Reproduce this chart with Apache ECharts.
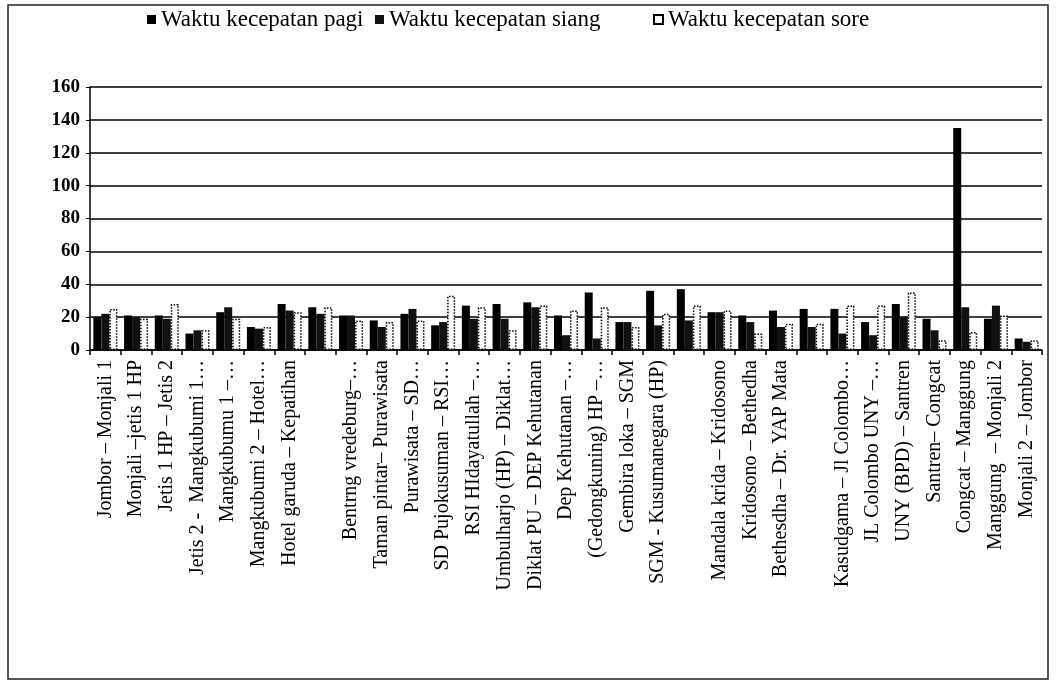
<!DOCTYPE html>
<html>
<head>
<meta charset="utf-8">
<script src="https://cdn.jsdelivr.net/npm/echarts@6/dist/echarts.min.js"></script>
<style>html,body{margin:0;padding:0;background:#fff}#c{width:1056px;height:683px}</style>
</head>
<body>
<div id="c"></div>
<script>
const categories = [
  "Jombor – Monjali 1", "Monjali –jetis 1 HP", "Jetis 1 HP – Jetis 2", "Jetis 2 -  Mangkubumi 1…",
  "Mangkubumu 1 –…", "Mangkubumi 2 – Hotel…", "Hotel garuda – Kepatihan", "",
  "Bentrng vredeburg–…", "Taman pintar– Purawisata", "Purawisata – SD…", "SD Pujokusuman – RSI…",
  "RSI HIdayatullah –…", "Umbulharjo (HP) – Diklat…", "Diklat PU – DEP Kehutanan", "Dep Kehutanan –…",
  "(Gedongkuning) HP –…", "Gembira loka – SGM", "SGM - Kusumanegara (HP)", "",
  "Mandala krida – Kridosono", "Kridosono – Bethedha", "Bethesdha – Dr. YAP Mata", "",
  "Kasudgama – Jl Colombo…", "JL Colombo UNY –…", "UNY (BPD) – Santren", "Santren– Congcat",
  "Congcat – Manggung", "Manggung  – Monjali 2", "Monjali 2 – Jombor"
];
const pagi  = [20, 21, 21, 10, 23, 14, 28, 26, 21, 18, 22, 15, 27, 28, 29, 21, 35, 17, 36, 37, 23, 21, 24, 25, 25, 17, 28, 19, 135, 19, 7];
const siang = [22, 20, 19, 12, 26, 13, 24, 22, 21, 14, 25, 17, 19, 19, 26, 9, 7, 17, 15, 18, 23, 17, 14, 14, 10, 9, 20, 12, 26, 27, 5];
const sore  = [25, 19, 28, 12, 19, 14, 23, 26, 18, 17, 18, 33, 26, 12, 27, 24, 26, 14, 22, 27, 24, 10, 16, 16, 27, 27, 35, 6, 11, 21, 6];
const seriesNames = ["Waktu kecepatan pagi", "Waktu kecepatan siang", "Waktu kecepatan sore"];
const yTicks = [0, 20, 40, 60, 80, 100, 120, 140, 160];

const serif = "'Liberation Serif', 'DejaVu Serif', serif";
const legendLefts = [142, 370, 648];
const chart = echarts.init(document.getElementById('c'), null, {renderer: 'canvas'});
chart.setOption({
  animation: false,
  backgroundColor: '#fff',
  graphic: [{
    type: 'rect', shape: {x: 8, y: 5, width: 1040, height: 674},
    style: {fill: 'none', stroke: '#222', lineWidth: 1.5}, silent: true
  }],
  legend: seriesNames.map((n, i) => ({
    top: 3, left: legendLefts[i],
    itemWidth: 9, itemHeight: 9,
    textStyle: {fontFamily: serif, fontSize: 23, color: '#000'},
    data: [{name: n, icon: 'rect'}]
  })),
  grid: {left: 90, right: 14, top: 87, bottom: 333, containLabel: false},
  xAxis: {
    type: 'category', data: categories,
    axisLine: {lineStyle: {color: '#000', width: 1.5}},
    axisTick: {show: true, alignWithLabel: false, length: 5, lineStyle: {color: '#000', width: 1.5}},
    axisLabel: {rotate: 90, interval: 0, fontFamily: serif, fontSize: 20, color: '#000', margin: 10}
  },
  yAxis: {
    type: 'value', min: 0, max: 160, interval: 20,
    axisLine: {show: true, lineStyle: {color: '#000', width: 1.5}},
    axisTick: {show: true, length: 4, lineStyle: {color: '#000'}},
    splitLine: {lineStyle: {color: '#000', width: 1.5}},
    axisLabel: {fontFamily: serif, fontSize: 19, fontWeight: 'bold', color: '#000', margin: 10,
      formatter: v => yTicks.includes(v) ? String(v) : ''}
  },
  series: [
    {name: seriesNames[0], type: 'bar', data: pagi, barWidth: 8, barGap: '0%',
      itemStyle: {color: '#000'}},
    {name: seriesNames[1], type: 'bar', data: siang, barWidth: 8, barGap: '0%',
      itemStyle: {color: '#111'}},
    {name: seriesNames[2], type: 'bar', data: sore, barWidth: 8, barGap: '0%',
      itemStyle: {color: '#fff', borderColor: '#000', borderWidth: 1.5, borderType: 'dotted'}}
  ]
});
</script>
</body>
</html>
